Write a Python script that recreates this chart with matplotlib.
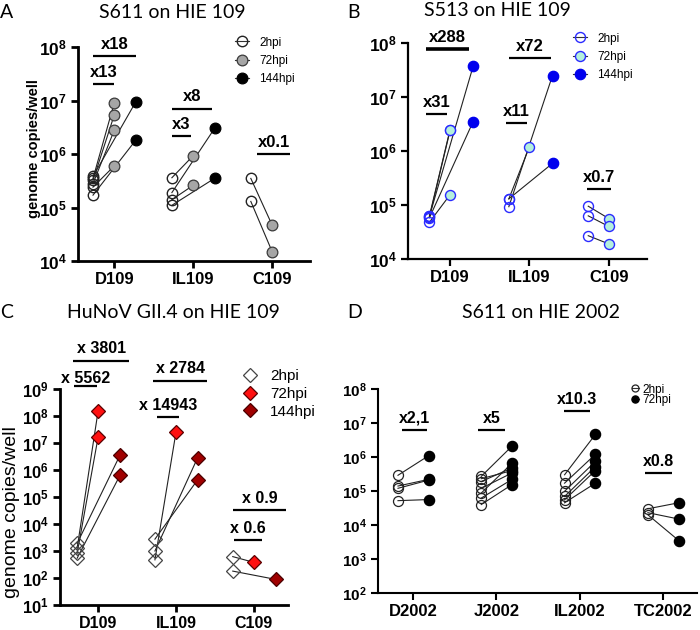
import matplotlib
matplotlib.use('Agg')
import matplotlib.pyplot as plt
from matplotlib.lines import Line2D
from matplotlib.ticker import NullLocator

plt.rcParams['font.family'] = ['Liberation Sans', 'DejaVu Sans']
plt.rcParams['mathtext.fontset'] = 'custom'
plt.rcParams['mathtext.rm'] = 'Liberation Sans'
plt.rcParams['mathtext.bf'] = 'Liberation Sans:bold'
plt.rcParams['mathtext.it'] = 'Liberation Sans:italic'

# ---------------- DATA (genome copies / well) ----------------
# Panel A: S611 on HIE 109
a_categories = ['D109', 'IL109', 'C109']
a_timepoints = ['2hpi', '72hpi', '144hpi']
a_pair_cat = [0, 0, 0, 0, 0, 0, 1, 1, 1, 1, 2, 2]
a_pair_tp = [1, 1, 1, 1, 2, 2, 1, 1, 2, 2, 1, 1]
a_pair_2hpi = [3.5e5, 3.2e5, 2.8e5, 2.4e5, 3.8e5, 1.7e5, 3.6e5, 1.4e5, 1.9e5, 1.1e5, 3.5e5, 1.3e5]
a_pair_late = [9.1e6, 5.4e6, 2.8e6, 6.0e5, 9.3e6, 1.8e6, 9.3e5, 2.6e5, 3.0e6, 3.5e5, 4.7e4, 1.5e4]
a_fold_labels = ['x18', 'x13', 'x8', 'x3', 'x0.1']

# Panel B: S513 on HIE 109
b_categories = ['D109', 'IL109', 'C109']
b_timepoints = ['2hpi', '72hpi', '144hpi']
b_pair_cat = [0, 0, 0, 0, 0, 1, 1, 1, 2, 2, 2]
b_pair_tp = [1, 1, 1, 2, 2, 1, 2, 2, 1, 1, 1]
b_pair_2hpi = [6.3e4, 6.0e4, 4.8e4, 6.2e4, 5.8e4, 1.3e5, 9.3e4, 1.3e5, 9.5e4, 6.3e4, 2.7e4]
b_pair_late = [2.5e6, 2.4e6, 1.55e5, 3.7e7, 3.5e6, 1.2e6, 2.5e7, 5.9e5, 5.6e4, 4.0e4, 1.9e4]
b_fold_labels = ['x288', 'x31', 'x72', 'x11', 'x0.7']

# Panel C: HuNoV GII.4 on HIE 109
c_categories = ['D109', 'IL109', 'C109']
c_timepoints = ['2hpi', '72hpi', '144hpi']
c_pair_cat = [0, 0, 0, 0, 1, 1, 1, 2, 2]
c_pair_tp = [1, 1, 2, 2, 1, 2, 2, 1, 2]
c_pair_2hpi = [1.26e3, 8.1e2, 1.9e3, 5.4e2, 4.7e2, 1.0e3, 2.75e3, 6.2e2, 1.8e2]
c_pair_late = [1.55e8, 1.66e7, 3.5e6, 6.3e5, 2.45e7, 2.9e6, 4.4e5, 3.8e2, 8.9e1]
c_fold_labels = ['x 3801', 'x 5562', 'x 2784', 'x 14943', 'x 0.9', 'x 0.6']

# Panel D: S611 on HIE 2002
d_categories = ['D2002', 'J2002', 'IL2002', 'TC2002']
d_timepoints = ['2hpi', '72hpi']
d_pair_cat = [0, 0, 0, 0, 1, 1, 1, 1, 1, 1, 1, 2, 2, 2, 2, 2, 2, 3, 3, 3]
d_pair_tp = [1] * 20
d_pair_2hpi = [2.9e5, 1.4e5, 1.2e5, 5.2e4,
               2.7e5, 2.3e5, 1.9e5, 1.2e5, 8.7e4, 6.2e4, 4.0e4,
               3.0e5, 1.7e5, 9.8e4, 6.9e4, 5.5e4, 4.5e4,
               3.0e4, 2.3e4, 2.0e4]
d_pair_late = [1.1e6, 2.2e5, 2.1e5, 5.6e4,
               2.1e6, 4.0e5, 4.8e5, 3.4e5, 6.6e5, 2.2e5, 1.55e5,
               4.6e6, 1.2e6, 7.4e5, 5.2e5, 4.0e5, 1.7e5,
               4.5e4, 1.5e4, 3.5e3]
d_fold_labels = ['x2,1', 'x5', 'x10.3', 'x0.8']

# ---------------- LAYOUT ----------------
W, H = 700, 630
fig = plt.figure(figsize=(7, 6.3), dpi=100)


def fig_axes(x0, y0, x1, y1):
    return fig.add_axes([x0 / W, 1 - y1 / H, (x1 - x0) / W, (y1 - y0) / H])


def style_axis(ax, cats, lo, hi, xlim, spine_lw, tick_fs, cat_fs, tick_len=5):
    ax.set_yscale('log')
    ax.set_ylim(10 ** lo, 10 ** hi)
    ax.set_xlim(*xlim)
    for s in ['top', 'right']:
        ax.spines[s].set_visible(False)
    for s in ['left', 'bottom']:
        ax.spines[s].set_linewidth(spine_lw)
    exps = list(range(lo, hi + 1))
    ax.set_yticks([10.0 ** e for e in exps])
    ax.set_yticklabels([r'$\mathbf{10^{%d}}$' % e for e in exps], fontsize=tick_fs)
    ax.yaxis.set_minor_locator(NullLocator())
    ax.set_xticks(range(len(cats)))
    ax.set_xticklabels(cats, fontweight='bold', fontsize=cat_fs)
    ax.tick_params(axis='both', width=spine_lw, length=tick_len, pad=3)


def draw_pairs(ax, offsets, pcat, ptp, p2, plate, styles, line_color='#222222'):
    for c, tp, s, e in zip(pcat, ptp, p2, plate):
        ax.plot([c + offsets[0], c + offsets[tp]], [s, e], color=line_color, lw=0.8, zorder=2)
    ax.plot([c + offsets[0] for c in pcat], p2, ls='none', zorder=3, **styles[0])
    for tp in range(1, len(offsets)):
        xs = [c + offsets[tp] for c, t in zip(pcat, ptp) if t == tp]
        ys = [e for e, t in zip(plate, ptp) if t == tp]
        ax.plot(xs, ys, ls='none', zorder=4, **styles[tp])


def draw_brackets(ax, labels, specs, fs, lw=1.6):
    for lab, (c, o0, o1, ylog, dy, blw) in zip(labels, specs):
        y = 10 ** ylog
        ax.plot([c + o0, c + o1], [y, y], color='k', lw=blw if blw else lw,
                clip_on=False, solid_capstyle='butt', zorder=5)
        ax.annotate(lab, (c + (o0 + o1) / 2, y), xytext=(0, dy), textcoords='offset points',
                    ha='center', va='bottom', fontsize=fs, fontweight='bold',
                    annotation_clip=False)


def add_legend(handles, labels, marker_x, text_x, center_y, fs, half_px, labelspacing,
               markerscale=1.0):
    fs_px = fs * 100 / 72
    hl = 2 * half_px / fs_px
    htp = (text_x - marker_x - half_px) / fs_px
    left = marker_x - half_px
    fig.legend(handles, labels, loc='center left', bbox_to_anchor=(left / W, 1 - center_y / H),
               bbox_transform=fig.transFigure, frameon=False, borderpad=0, borderaxespad=0,
               handlelength=hl, handletextpad=htp, fontsize=fs, labelspacing=labelspacing,
               handleheight=0.7, markerscale=markerscale)


def fig_label(x, y, text, **kw):
    fig.text(x / W, 1 - y / H, text, ha='center', va='center', **kw)


title_font = dict(family=['Lato', 'DejaVu Sans'], fontsize=14)
letter_font = dict(family=['Lato', 'DejaVu Sans'], fontsize=14)

# ---------------- Panel A ----------------
axA = fig_axes(78, 47, 310, 261)
style_axis(axA, a_categories, 4, 8, (-0.46, 2.48), 2.0, 12.5, 12)
a_off = [-0.27, 0.0, 0.27]
a_styles = [dict(marker='o', ms=7.5, mfc='none', mec='#222222', mew=1.0),
            dict(marker='o', ms=7.7, mfc='#a6a6a6', mec='#3a3a3a', mew=0.9),
            dict(marker='o', ms=7.7, mfc='black', mec='black', mew=0.9)]
draw_pairs(axA, a_off, a_pair_cat, a_pair_tp, a_pair_2hpi, a_pair_late, a_styles)
draw_brackets(axA, a_fold_labels,
              [(0, -0.27, 0.28, 7.83, 3, None), (0, -0.27, 0.0, 7.30, 3, None),
               (1, -0.27, 0.24, 6.85, 3, None), (1, -0.27, -0.03, 6.33, 3, None),
               (2, -0.19, 0.23, 6.0, 3, None)], 12)
axA.set_ylabel('genome copies/well', fontsize=10.5, fontweight='bold',
               family=['Liberation Sans Narrow', 'Liberation Sans', 'DejaVu Sans'])
axA.yaxis.set_label_coords(-0.16, 0.526)
hA = [Line2D([], [], color='#333333', lw=0.8, **s) for s in a_styles]
add_legend(hA, a_timepoints, 242, 259, 61, 8.5, 7, 0.55)
fig_label(172, 12, 'S611 on HIE 109', **title_font)

# ---------------- Panel B ----------------
axB = fig_axes(408, 43, 647, 259)
style_axis(axB, b_categories, 4, 8, (-0.53, 2.48), 1.6, 12.5, 12)
b_off = [-0.26, 0.0, 0.29]
b_styles = [dict(marker='o', ms=7.2, mfc='none', mec='#2a2aff', mew=1.0),
            dict(marker='o', ms=7.2, mfc='#b4f0dc', mec='#2a2aff', mew=1.0),
            dict(marker='o', ms=7.5, mfc='#0000ee', mec='#0000ee', mew=0.9)]
draw_pairs(axB, b_off, b_pair_cat, b_pair_tp, b_pair_2hpi, b_pair_late, b_styles)
draw_brackets(axB, b_fold_labels,
              [(0, -0.30, 0.24, 7.89, 3, 2.6), (0, -0.30, -0.04, 6.69, 3, None),
               (1, -0.26, 0.27, 7.72, 3, None), (1, -0.30, -0.03, 6.52, 3, None),
               (2, -0.28, 0.03, 5.30, 3, None)], 12)
hB = [Line2D([], [], color='#333333', lw=0.8, **s) for s in b_styles]
add_legend(hB, b_timepoints, 580, 597, 57, 8.5, 7, 0.55)
fig_label(497, 11, 'S513 on HIE 109', **title_font)

# ---------------- Panel C ----------------
axC = fig_axes(60, 389, 288, 605)
style_axis(axC, c_categories, 1, 9, (-0.49, 2.44), 2.0, 12, 11.5)
c_off = [-0.27, 0.0, 0.28]
c_styles = [dict(marker='D', ms=7.0, mfc='none', mec='#444444', mew=0.9),
            dict(marker='D', ms=7.0, mfc='#ff1010', mec='#5a0000', mew=0.9),
            dict(marker='D', ms=7.0, mfc='#a00000', mec='#4a0000', mew=0.9)]
draw_pairs(axC, c_off, c_pair_cat, c_pair_tp, c_pair_2hpi, c_pair_late, c_styles)
draw_brackets(axC, c_fold_labels,
              [(0, -0.32, 0.40, 10.05, 3, None), (0, -0.31, -0.01, 9.12, 0, None),
               (1, -0.29, 0.40, 9.31, 3, None), (1, -0.24, 0.04, 7.96, 3, None),
               (2, -0.27, 0.42, 4.52, 3, None), (2, -0.26, 0.10, 3.39, 3, None)], 11.5)
axC.set_ylabel('genome copies/well', fontsize=14)
axC.yaxis.set_label_coords(-0.175, 0.43)
hC = [Line2D([], [], color='none', lw=0, **s) for s in c_styles]
add_legend(hC, c_timepoints, 250, 270, 394, 11, 6, 0.25)
fig_label(173, 313, 'HuNoV GII.4 on HIE 109', **title_font)

# ---------------- Panel D ----------------
axD = fig_axes(378, 389, 697, 593)
style_axis(axD, d_categories, 2, 8, (-0.42, 3.41), 1.5, 11, 12)
d_off = [-0.18, 0.19]
d_styles = [dict(marker='o', ms=7.2, mfc='none', mec='#222222', mew=0.9),
            dict(marker='o', ms=7.4, mfc='black', mec='black', mew=0.9)]
draw_pairs(axD, d_off, d_pair_cat, d_pair_tp, d_pair_2hpi, d_pair_late, d_styles)
draw_brackets(axD, d_fold_labels,
              [(0, -0.13, 0.17, 6.80, 3, None), (1, -0.22, 0.11, 6.80, 3, None),
               (2, -0.19, 0.12, 7.34, 3, None), (3, -0.22, 0.11, 5.53, 3, None)], 11.5)
hD = [Line2D([], [], color='#333333', lw=0.8, **s) for s in d_styles]
add_legend(hD, d_timepoints, 635, 642, 395, 8.5, 3.5, -0.1, markerscale=0.7)
fig_label(541, 313, 'S611 on HIE 2002', **title_font)

# panel letters
for lab, x, y in [('A', 7, 12), ('B', 353, 12), ('C', 7, 313), ('D', 355, 313)]:
    fig_label(x, y, lab, **letter_font)

fig.savefig('out.png', dpi=100)
